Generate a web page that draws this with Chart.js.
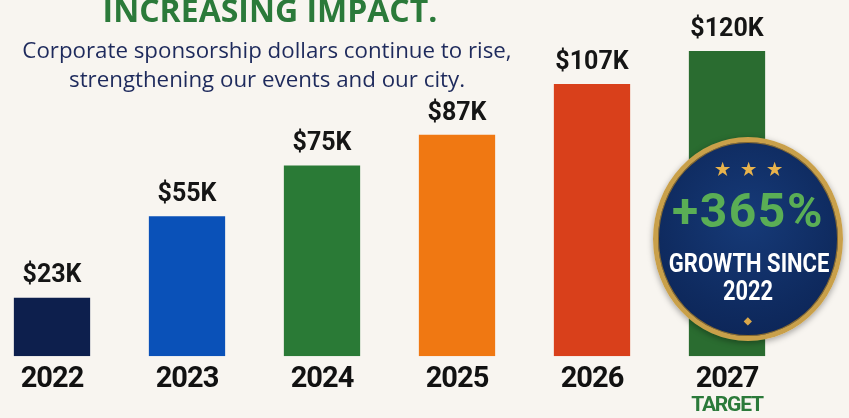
<!DOCTYPE html>
<html>
<head>
<meta charset="utf-8">
<script src="https://cdn.jsdelivr.net/npm/chart.js@4.4.1/dist/chart.umd.min.js"></script>
<style>
  html, body { margin: 0; padding: 0; }
  body { width: 849px; height: 418px; overflow: hidden; position: relative; background: #f8f5f0; }
  #wrap { position: absolute; left: -16px; top: 0; width: 865px; height: 418px; }
  .title { position: absolute; left: 0; width: 540px; top: -12px; text-align: center;
    font: bold 32px "Open Sans", sans-serif; color: #2b7a3a; white-space: nowrap; }
  .sub { position: absolute; left: 0; width: 534px; top: 35px; text-align: center;
    font: 22.3px "Open Sans", sans-serif; color: #1e2a5c; line-height: 29px; white-space: nowrap; }
  .badge { position: absolute; left: 653px; top: 137px; width: 180px; height: 194px; border-radius: 50%;
    border: 5px solid #c9a04a; background: radial-gradient(circle at 50% 40%, #163a78 0%, #0f2b60 60%, #0b2252 100%);
    box-shadow: 0 2px 6px rgba(0,0,0,0.35), inset 0 0 0 1px #8a6a2a; text-align: center; color: #fff;
    font-family: Roboto, sans-serif; font-weight: bold; }
  .badge div { position: absolute; left: 0; right: 0; white-space: nowrap; }
  .stars { top: 17px; font-size: 17px; line-height: 20px; color: #e8b34c; letter-spacing: 11px; padding-left: 11px; }
  .pct { top: 41px; font-size: 48px; line-height: 56px; color: #5aae55; letter-spacing: 1.5px; }
  .gs { top: 107px; font-size: 25px; line-height: 30px; transform: scaleX(0.88); }
  .yr { top: 133px; font-size: 28px; line-height: 32px; transform: scaleX(0.78); }
  .dia { top: 173px; font-size: 10px; line-height: 12px; color: #d9a74a; }
</style>
</head>
<body>
<div id="wrap"><canvas id="impactChart"></canvas></div>
<div class="title">INCREASING IMPACT.</div>
<div class="sub">Corporate sponsorship dollars continue to rise,<br>strengthening our events and our city.</div>
<div class="badge">
  <div class="stars">★★★</div>
  <div class="pct">+365%</div>
  <div class="gs">GROWTH SINCE</div>
  <div class="yr">2022</div>
  <div class="dia">◆</div>
</div>
<script>
const years = ["2022", "2023", "2024", "2025", "2026", "2027"];
const sponsorK = [23, 55, 75, 87, 107, 120];
const barColors = ["#0d1f4d", "#0a51b8", "#2a7a36", "#f07812", "#d9401b", "#2a6c30"];

// tighter letters for the year ticks
const tightTicks = {
  id: "tightTicks",
  beforeDraw(chart) { chart.ctx.letterSpacing = "-1px"; }
};

// value labels above the bars + TARGET under the last year
const labelPlugin = {
  id: "barLabels",
  afterDatasetsDraw(chart) {
    const ctx = chart.ctx;
    const meta = chart.getDatasetMeta(0);
    ctx.save();
    ctx.letterSpacing = "0px";
    ctx.fillStyle = "#151515";
    ctx.font = "bold 25px Roboto, sans-serif";
    ctx.textAlign = "center";
    ctx.textBaseline = "bottom";
    meta.data.forEach((bar, i) => {
      ctx.fillText("$" + sponsorK[i] + "K", bar.x, bar.y - 9);
    });
    const x = chart.scales.x.getPixelForValue(years.length - 1);
    ctx.letterSpacing = "-1.2px";
    ctx.fillStyle = "#2b7a3a";
    ctx.font = "bold 21px Roboto, sans-serif";
    ctx.textBaseline = "middle";
    ctx.fillText("TARGET", x, 406);
    ctx.restore();
  }
};

const data = {
  labels: years,
  datasets: [{
    data: sponsorK,
    backgroundColor: barColors,
    barPercentage: 0.565,
    categoryPercentage: 1,
  }]
};

const config = {
  type: "bar",
  data: data,
  options: {
    responsive: true,
    maintainAspectRatio: false,
    animation: false,
    layout: { padding: { left: 0.5, right: 54.5, top: 0, bottom: 15 } },
    plugins: { legend: { display: false }, tooltip: { enabled: false } },
    scales: {
      x: {
        grid: { display: false, drawTicks: false },
        border: { display: false },
        ticks: { color: "#111", padding: 6, font: { family: "Roboto", size: 29, weight: "bold" } }
      },
      y: { display: false, min: 0, max: 140 }
    }
  },
  plugins: [tightTicks, labelPlugin]
};

let myChart = new Chart(document.getElementById("impactChart"), config);
</script>
</body>
</html>
